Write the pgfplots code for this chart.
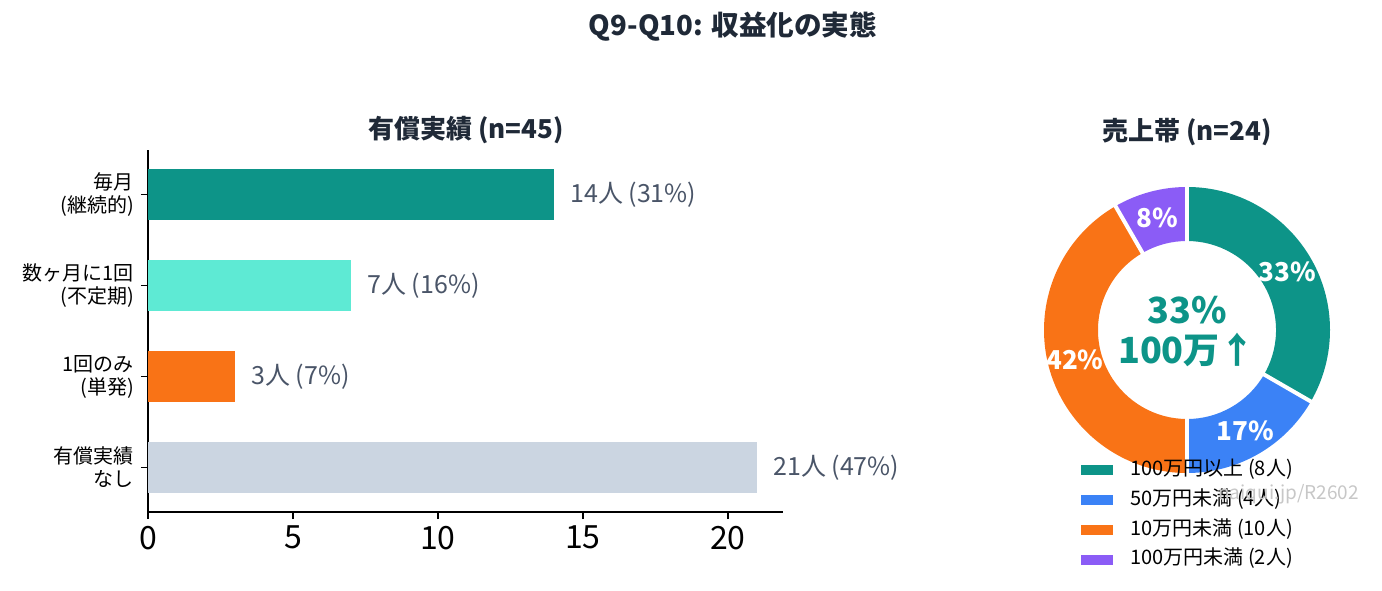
\documentclass[border=0pt]{standalone}
\usepackage{fontspec}
\setmainfont{Noto Sans CJK JP}
\usepackage{pgfplots}
\pgfplotsset{compat=1.18}

\definecolor{cTeal}{HTML}{0D9488}
\definecolor{cLtTeal}{HTML}{5EEAD4}
\definecolor{cOrange}{HTML}{F97316}
\definecolor{cGray}{HTML}{CBD5E1}
\definecolor{cBlue}{HTML}{3B82F6}
\definecolor{cPurple}{HTML}{8B5CF6}
\definecolor{cTitle}{HTML}{1F2937}
\definecolor{cVal}{HTML}{4A5568}

% donut data: counts out of 24, slices clockwise from the top
\def\nA{8}\def\nB{4}\def\nC{10}\def\nD{2}\def\nT{24}
\pgfmathsetmacro\aA{90}
\pgfmathsetmacro\aB{\aA-360*\nA/\nT}
\pgfmathsetmacro\aC{\aB-360*\nB/\nT}
\pgfmathsetmacro\aD{\aC-360*\nC/\nT}
\pgfmathsetmacro\aE{\aD-360*\nD/\nT}
\def\rOut{71.5}\def\rIn{44.5}

% donutslice{start}{end}{colour}{label}
\newcommand\donutslice[4]{%
  \fill[#3] (axis cs:{\rOut*cos(#1)},{\rOut*sin(#1)})
    arc[start angle=#1, end angle=#2, radius=\rOut pt]
    -- (axis cs:{\rIn*cos(#2)},{\rIn*sin(#2)})
    arc[start angle=#2, end angle=#1, radius=\rIn pt] -- cycle;
  \node[text=white, font=\bfseries\fontsize{13}{13}\selectfont]
    at (axis cs:{58*cos((#1+#2)/2)},{58*sin((#1+#2)/2)}) {#4};
}
\newcommand\donutgap[1]{%
  \draw[white, line width=2pt] (axis cs:{(\rIn-1)*cos(#1)},{(\rIn-1)*sin(#1)})
    -- (axis cs:{(\rOut+1)*cos(#1)},{(\rOut+1)*sin(#1)});
}

\begin{document}
\begin{tikzpicture}
\path[use as bounding box] (-74pt,-39pt) rectangle (617pt,256pt);

% main title and panel titles
\node[font=\bfseries\fontsize{13.8}{13.8}\selectfont, text=cTitle] at (292.5pt,242.5pt) {Q9-Q10: 収益化の実態};
\node[font=\bfseries\fontsize{13}{13}\selectfont, text=cTitle] at (159pt,191pt) {有償実績 (n=45)};
\node[font=\bfseries\fontsize{13}{13}\selectfont, text=cTitle] at (519.5pt,190pt) {売上帯 (n=24)};

\begin{axis}[
    at={(0,0)}, anchor=south west,
    scale only axis,
    width=317.5pt, height=181pt,
    xbar, bar shift=0pt, bar width=0.57,
    xmin=0, xmax=21.9,
    ymin=-0.49, ymax=3.49,
    axis lines=left,
    axis line style={-, line width=0.75pt},
    tick align=outside,
    major tick length=3.5pt,
    tick style={line width=0.75pt, black},
    xtick={0,5,10,15,20},
    ytick={0,1,2,3},
    yticklabels={{有償実績\\なし},{1回のみ\\(単発)},{数ヶ月に1回\\(不定期)},{毎月\\(継続的)}},
    yticklabel style={align=right, font=\fontsize{10}{11.5}\selectfont},
    xticklabel style={font=\fontsize{16}{16}\selectfont},
    /pgf/number format/assume math mode=true,
    point meta=explicit symbolic,
    nodes near coords,
    nodes near coords style={anchor=west, inner sep=0pt, xshift=8pt,
        font=\fontsize{12.5}{12.5}\selectfont, text=cVal},
]
\addplot[fill=cTeal, draw=none] coordinates {(14,3) [14人 (31\%)]};
\addplot[fill=cLtTeal, draw=none] coordinates {(7,2) [7人 (16\%)]};
\addplot[fill=cOrange, draw=none] coordinates {(3,1) [3人 (7\%)]};
\addplot[fill=cGray, draw=none] coordinates {(21,0) [21人 (47\%)]};
\end{axis}

\begin{axis}[
    at={(519.5pt,91pt)}, anchor=center,
    scale only axis,
    width=150pt, height=150pt,
    xmin=-75, xmax=75, ymin=-75, ymax=75,
    hide axis, clip=false,
    legend image code/.code={\fill[#1, draw=none] (0pt,-2.5pt) rectangle (16pt,2.5pt);},
    legend cell align=left,
    legend style={at={(axis cs:-53,-65.5)}, anchor=north west, draw=none, fill=none,
        inner sep=0pt, row sep=5.9pt,
        font=\fontsize{10}{11}\selectfont,
        nodes={inner sep=0pt, text height=7pt, text depth=2pt},
        /tikz/every odd column/.style={column sep=8.5pt}},
]
\donutslice{\aA}{\aB}{cTeal}{33\%}
\donutslice{\aB}{\aC}{cBlue}{17\%}
\donutslice{\aC}{\aD}{cOrange}{42\%}
\donutslice{\aD}{\aE}{cPurple}{8\%}
\donutgap{\aA}\donutgap{\aB}\donutgap{\aC}\donutgap{\aD}
\node[text=cTeal, font=\bfseries\fontsize{18}{18}\selectfont] at (axis cs:0,10) {33\%};
\node[text=cTeal, font=\bfseries\fontsize{18}{18}\selectfont] at (axis cs:0,-10) {100万↑};
\addlegendimage{fill=cTeal}
\addlegendentry{100万円以上 (8人)}
\addlegendimage{fill=cBlue}
\addlegendentry{50万円未満 (4人)}
\addlegendimage{fill=cOrange}
\addlegendentry{10万円未満 (10人)}
\addlegendimage{fill=cPurple}
\addlegendentry{100万円未満 (2人)}
\end{axis}

% faint watermark
\node[anchor=east, text=black!22, font=\fontsize{9.5}{9.5}\selectfont] at (609pt,9pt) {naiqui.jp/R2602};
\end{tikzpicture}
\end{document}
